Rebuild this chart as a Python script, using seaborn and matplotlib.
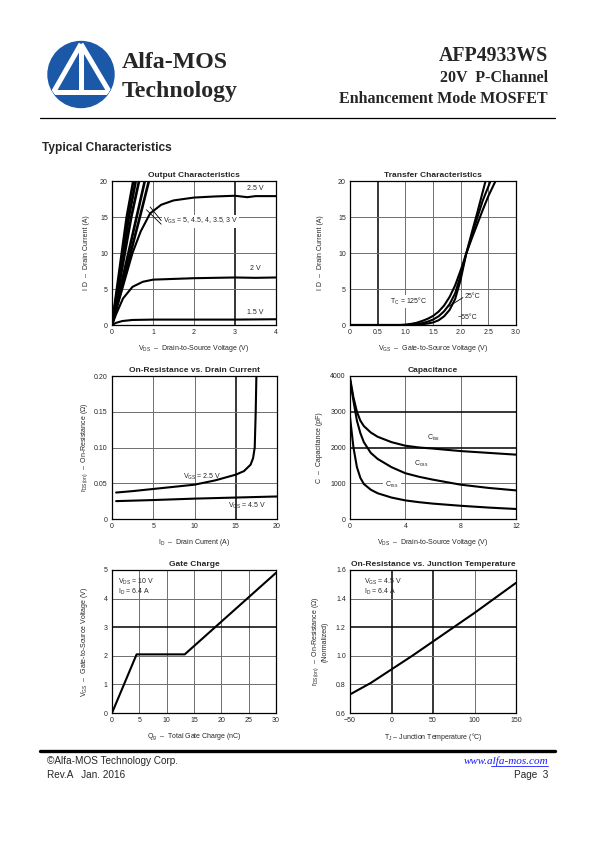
import numpy as np
import pandas as pd
import matplotlib
matplotlib.use("Agg")
from matplotlib import pyplot as plt
from matplotlib.patches import Circle
import seaborn as sns

# ---- Output characteristics: VDS (V) vs ID (A) ----
out_vds_5v = [0, 0.36, 0.52]
out_id_5v = [0, 15, 20]
out_vds_45v = [0, 0.41, 0.58]
out_id_45v = [0, 15, 20]
out_vds_4v = [0, 0.47, 0.66]
out_id_4v = [0, 15, 20]
out_vds_35v = [0, 0.60, 0.80]
out_id_35v = [0, 15, 20]
out_vds_3v = [0, 0.68, 0.90]
out_id_3v = [0, 15, 20]
out_vds_25v = [0, 0.25, 0.5, 0.7, 0.93, 1.2, 1.5, 2.0, 2.5, 3.0, 3.3, 3.5, 4.0]
out_id_25v = [0, 5.0, 10.0, 13.0, 15.5, 16.7, 17.3, 17.7, 17.85, 17.95, 17.75, 17.9, 17.9]
out_vds_2v = [0, 0.1, 0.27, 0.5, 0.75, 1.0, 2.0, 3.0, 3.5, 4.0]
out_id_2v = [0, 1.5, 3.7, 5.3, 6.0, 6.3, 6.5, 6.6, 6.55, 6.6]
out_vds_15v = [0, 0.1, 0.25, 0.5, 1.0, 2.0, 3.0, 4.0]
out_id_15v = [0, 0.3, 0.55, 0.7, 0.75, 0.75, 0.75, 0.8]

# ---- Transfer characteristics: VGS (V) vs ID (A) ----
tr_vgs_125 = [0, 0.9, 1.0, 1.1, 1.2, 1.3, 1.4, 1.5, 1.6, 1.7, 1.8, 1.9, 2.0, 2.1, 2.2, 2.3, 2.4, 2.5, 2.63]
tr_id_125 = [0, 0, 0.05, 0.15, 0.3, 0.55, 0.85, 1.25, 1.85, 2.7, 3.9, 5.5, 7.6, 9.9, 12.0, 14.0, 16.0, 17.9, 20]
tr_vgs_25 = [0, 1.0, 1.1, 1.2, 1.3, 1.4, 1.5, 1.6, 1.7, 1.8, 1.9, 2.0, 2.1, 2.2, 2.3, 2.4, 2.54]
tr_id_25 = [0, 0, 0.04, 0.12, 0.25, 0.45, 0.75, 1.2, 1.9, 2.9, 4.4, 6.9, 9.9, 12.4, 14.9, 17.3, 20]
tr_vgs_m55 = [0, 1.1, 1.2, 1.3, 1.4, 1.5, 1.6, 1.7, 1.8, 1.9, 2.0, 2.1, 2.2, 2.3, 2.45]
tr_id_m55 = [0, 0, 0.03, 0.1, 0.2, 0.35, 0.65, 1.2, 2.1, 3.6, 6.3, 9.9, 12.8, 15.6, 20]

# ---- On-resistance vs drain current: ID (A) vs rDS(on) (ohm) ----
ron_id_25v = [0.5, 2.5, 5, 7.5, 10, 12.5, 15, 16, 16.8, 17.1, 17.3, 17.42, 17.5]
ron_25v = [0.037, 0.039, 0.042, 0.045, 0.048, 0.054, 0.062, 0.067, 0.076, 0.085, 0.1, 0.15, 0.2]
ron_id_45v = [0.5, 5, 10, 15, 20]
ron_45v = [0.025, 0.0265, 0.0285, 0.030, 0.0315]

# ---- Capacitance: VDS (V) vs C (pF) ----
cap_vds = [0, 0.25, 0.5, 0.75, 1, 1.5, 2, 3, 4, 5, 6, 8, 10, 12]
cap_ciss = [3950, 3400, 3000, 2750, 2600, 2420, 2300, 2150, 2050, 2000, 1970, 1900, 1850, 1800]
cap_coss = [3900, 3300, 2750, 2400, 2150, 1850, 1680, 1450, 1280, 1180, 1100, 960, 870, 800]
cap_crss = [2850, 2000, 1450, 1150, 980, 820, 720, 600, 520, 470, 430, 370, 320, 280]

# ---- Gate charge: Qg (nC) vs VGS (V) ----
gc_qg = [0, 4.5, 13.3, 30]
gc_vgs = [0, 2.05, 2.05, 4.9]

# ---- Normalized on-resistance vs junction temperature ----
tj_temp = [-50, -25, 0, 25, 50, 75, 100, 125, 150]
tj_ron = [0.73, 0.81, 0.905, 1.0, 1.1, 1.2, 1.3, 1.405, 1.51]

sns.set_theme(style="white")
plt.rcParams["font.family"] = ["Liberation Sans", "DejaVu Sans"]
plt.rcParams["mathtext.fontset"] = "custom"
plt.rcParams["mathtext.rm"] = "Liberation Sans"
plt.rcParams["mathtext.it"] = "Liberation Sans:italic"

W, H = 595, 842
fig = plt.figure(figsize=(W / 100, H / 100), dpi=100)
fig.patch.set_facecolor("white")

# page overlay in pixel coordinates (header, logo, footer)
page = fig.add_axes([0, 0, 1, 1])
page.set_xlim(0, W)
page.set_ylim(H, 0)
page.axis("off")

blue = "#1b58a7"
disc = Circle((81, 74.5), 33, color=blue, zorder=1)
page.add_patch(disc)
for xs, ys in [([81, 53], [44, 93]), ([81, 110], [44, 93]), ([81, 81], [44, 93]), ([45, 117], [92, 92])]:
    ln, = page.plot(xs, ys, color="white", lw=3.6, solid_capstyle="butt", zorder=2)
    ln.set_clip_path(disc)

serif = ["Liberation Serif", "DejaVu Serif"]
page.text(122, 63, "Alfa-MOS", family=serif, weight="bold", fontsize=17.2, va="center", ha="left")
page.text(122, 92, "Technology", family=serif, weight="bold", fontsize=17.2, va="center", ha="left")
page.text(548, 56, "AFP4933WS", family=serif, weight="bold", fontsize=14.3, va="center", ha="right")
page.text(548, 78, "20V  P-Channel", family=serif, weight="bold", fontsize=11.5, va="center", ha="right")
page.text(548, 99, "Enhancement Mode MOSFET", family=serif, weight="bold", fontsize=11.5, va="center", ha="right")
page.plot([40, 555], [118, 118], color="black", lw=0.9)
page.text(42, 148, "Typical Characteristics", weight="bold", fontsize=8.6, va="center", ha="left")

page.plot([40, 555], [751, 751], color="black", lw=2.4)
page.text(47, 761, "\u00a9Alfa-MOS Technology Corp.", fontsize=7.2, va="center", ha="left")
page.text(47, 775, "Rev.A   Jan. 2016", fontsize=7.2, va="center", ha="left")
page.text(548, 761, "www.alfa-mos.com", family=serif, style="italic", fontsize=8,
          color="#1a1aff", va="center", ha="right")
page.plot([491, 548], [766, 766], color="#1a1aff", lw=0.6)
page.text(548, 775, "Page  3", fontsize=7.2, va="center", ha="right")


def panel(x0, y0, x1, y1):
    return fig.add_axes([x0 / W, 1 - y1 / H, (x1 - x0) / W, (y1 - y0) / H])


def style(ax, xlim, ylim, xticks, xlabels, yticks, ylabels, dark_x, dark_y, title, xlabel, ylabel, ylab_x):
    ax.set_xlim(*xlim)
    ax.set_ylim(*ylim)
    ax.set_xticks(xticks)
    ax.set_xticklabels(xlabels)
    ax.set_yticks(yticks)
    ax.set_yticklabels(ylabels)
    ax.tick_params(length=0, pad=3, labelsize=5)
    for s in ax.spines.values():
        s.set_color("black")
        s.set_linewidth(0.9)
    for t in xticks[1:-1]:
        dark = t in dark_x
        ax.axvline(t, color="black" if dark else "#6e6e6e", lw=1.1 if dark else 0.7, zorder=0.5)
    for t in yticks[1:-1]:
        dark = t in dark_y
        ax.axhline(t, color="black" if dark else "#6e6e6e", lw=1.1 if dark else 0.7, zorder=0.5)
    ax.set_title(title, fontsize=6, weight="bold", pad=3)
    ax.set_xlabel(xlabel, fontsize=5, labelpad=5)
    ax.set_ylabel(ylabel, fontsize=5)
    ax.yaxis.set_label_coords(ylab_x, 0.5)


lw = 1.5
line_kw = dict(color="black", linewidth=lw, sort=False)

# 1. Output characteristics
ax1 = panel(112, 181, 276, 325)
for vx, iy in [(out_vds_5v, out_id_5v), (out_vds_45v, out_id_45v), (out_vds_4v, out_id_4v),
               (out_vds_35v, out_id_35v), (out_vds_3v, out_id_3v)]:
    sns.lineplot(x=vx, y=iy, ax=ax1, color="black", linewidth=1.9, sort=False)
for vx, iy in [(out_vds_25v, out_id_25v), (out_vds_2v, out_id_2v), (out_vds_15v, out_id_15v)]:
    sns.lineplot(x=vx, y=iy, ax=ax1, **line_kw)
style(ax1, (0, 4), (0, 20), [0, 1, 2, 3, 4], ["0", "1", "2", "3", "4"],
      [0, 5, 10, 15, 20], ["0", "5", "10", "15", "20"], [3], [],
      "Output Characteristics", "V$_{\\rm DS}$  \u2013  Drain-to-Source Voltage (V)",
      "I D  \u2013  Drain Current (A)", -0.134)
ax1.text(1.24, 14.4, "V$_{\\rm GS}$ = 5, 4.5, 4, 3.5, 3 V", fontsize=5, va="center",
         bbox=dict(fc="white", ec="none", pad=0.8))
ax1.plot([1.2, 0.84], [14.0, 16.0], color="black", lw=0.6)
ax1.plot([1.2, 0.93], [14.5, 16.4], color="black", lw=0.6)
ax1.text(3.29, 19.0, "2.5 V", fontsize=5, va="center")
ax1.text(3.37, 7.8, "2 V", fontsize=5, va="center")
ax1.text(3.29, 1.8, "1.5 V", fontsize=5, va="center")

# 2. Transfer characteristics
ax2 = panel(350, 181, 516, 325)
for vx, iy in [(tr_vgs_125, tr_id_125), (tr_vgs_25, tr_id_25), (tr_vgs_m55, tr_id_m55)]:
    sns.lineplot(x=vx, y=iy, ax=ax2, **line_kw)
style(ax2, (0, 3.0), (0, 20), [0, 0.5, 1.0, 1.5, 2.0, 2.5, 3.0],
      ["0", "0.5", "1.0", "1.5", "2.0", "2.5", "3.0"],
      [0, 5, 10, 15, 20], ["0", "5", "10", "15", "20"], [0.5], [],
      "Transfer Characteristics", "V$_{\\rm GS}$  \u2013  Gate-to-Source Voltage (V)",
      "I D  \u2013  Drain Current (A)", -0.157)
ax2.text(0.72, 3.3, "T$_{\\rm C}$ = 125\u00b0C", fontsize=5, va="center",
         bbox=dict(fc="white", ec="none", pad=0.5))
ax2.text(2.08, 4.0, "25\u00b0C", fontsize=5, va="center")
ax2.text(1.94, 1.1, "\u221255\u00b0C", fontsize=5, va="center")
ax2.plot([2.04, 1.77], [3.8, 2.5], color="black", lw=0.6)

# 3. On-resistance vs drain current
ax3 = panel(112, 376, 277, 519)
sns.lineplot(x=ron_id_25v, y=ron_25v, ax=ax3, **line_kw)
sns.lineplot(x=ron_id_45v, y=ron_45v, ax=ax3, **line_kw)
style(ax3, (0, 20), (0, 0.2), [0, 5, 10, 15, 20], ["0", "5", "10", "15", "20"],
      [0, 0.05, 0.10, 0.15, 0.20], ["0", "0.05", "0.10", "0.15", "0.20"], [15], [],
      "On-Resistance vs. Drain Current", "I$_{\\rm D}$  \u2013  Drain Current (A)",
      "r$_{\\rm DS(on)}$  \u2013  On-Resistance (\u03a9)", -0.134)
ax3.text(8.6, 0.0587, "V$_{\\rm GS}$ = 2.5 V", fontsize=5, va="center")
ax3.text(14.1, 0.018, "V$_{\\rm GS}$ = 4.5 V", fontsize=5, va="center")

# 4. Capacitance
ax4 = panel(350, 376, 516, 519)
for cy in [cap_ciss, cap_coss, cap_crss]:
    sns.lineplot(x=cap_vds, y=cy, ax=ax4, **line_kw)
style(ax4, (0, 12), (0, 4000), [0, 4, 8, 12], ["0", "4", "8", "12"],
      [0, 1000, 2000, 3000, 4000], ["0", "1000", "2000", "3000", "4000"], [], [2000, 3000],
      "Capacitance", "V$_{\\rm DS}$  \u2013  Drain-to-Source Voltage (V)",
      "C  \u2013  Capacitance (pF)", -0.163)
ax4.text(5.6, 2265, "C$_{\\rm iss}$", fontsize=5, va="center")
ax4.text(4.65, 1540, "C$_{\\rm oss}$", fontsize=5, va="center")
ax4.text(2.55, 960, "C$_{\\rm rss}$", fontsize=5, va="center",
         bbox=dict(fc="white", ec="none", pad=1.5))

# 5. Gate charge
ax5 = panel(112, 570, 276, 713)
sns.lineplot(x=gc_qg, y=gc_vgs, ax=ax5, **line_kw)
style(ax5, (0, 30), (0, 5), [0, 5, 10, 15, 20, 25, 30], ["0", "5", "10", "15", "20", "25", "30"],
      [0, 1, 2, 3, 4, 5], ["0", "1", "2", "3", "4", "5"], [], [3],
      "Gate Charge", "Q$_{\\rm g}$  \u2013  Total Gate Charge (nC)",
      "V$_{\\rm GS}$  \u2013  Gate-to-Source Voltage (V)", -0.134)
ax5.text(1.1, 4.6, "V$_{\\rm DS}$ = 10 V", fontsize=5, va="center")
ax5.text(1.1, 4.25, "I$_{\\rm D}$ = 6.4 A", fontsize=5, va="center")

# 6. Normalized on-resistance vs junction temperature
ax6 = panel(350, 570, 516, 713)
sns.lineplot(x=tj_temp, y=tj_ron, ax=ax6, **line_kw)
style(ax6, (-50, 150), (0.6, 1.6), [-50, 0, 50, 100, 150], ["\u221250", "0", "50", "100", "150"],
      [0.6, 0.8, 1.0, 1.2, 1.4, 1.6], ["0.6", "0.8", "1.0", "1.2", "1.4", "1.6"], [0, 50], [1.2],
      "On-Resistance vs. Junction Temperature", "T$_{\\rm J}$ \u2013 Junction Temperature (\u00b0C)",
      "r$_{\\rm DS(on)}$  \u2013  On-Resistance (\u03a9)\n(Normalized)", -0.127)
ax6.text(-33, 1.52, "V$_{\\rm GS}$ = 4.5 V", fontsize=5, va="center")
ax6.text(-33, 1.45, "I$_{\\rm D}$ = 6.4 A", fontsize=5, va="center")

fig.savefig("out.png", dpi=100, facecolor="white")
